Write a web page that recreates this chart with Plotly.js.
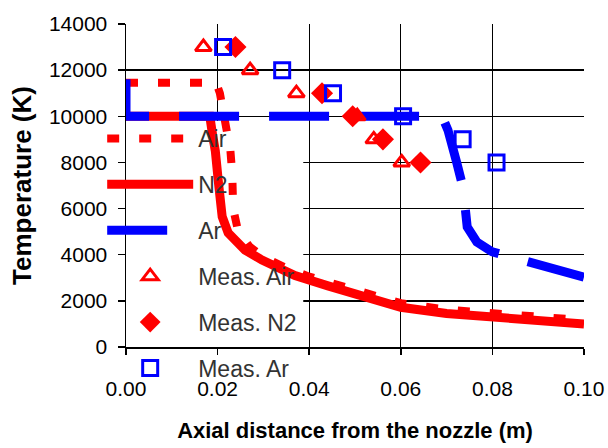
<!DOCTYPE html>
<html><head><meta charset="utf-8">
<script src="https://cdn.plot.ly/plotly-3.0.1.min.js"></script>
<style>html,body{margin:0;padding:0;background:#fff}#chart{width:608px;height:448px}</style>
</head><body><div id="chart"></div>
<script>
// Computed lines
const airX = [0, 0.0197, 0.0205, 0.0218, 0.0228, 0.0232, 0.0234, 0.0245, 0.027, 0.030, 0.035, 0.040, 0.045, 0.050, 0.060, 0.070, 0.080, 0.090, 0.100];
const airY = [11450, 11450, 11000, 9800, 8500, 7500, 6000, 5000, 4350, 3900, 3420, 3050, 2750, 2480, 1900, 1620, 1440, 1290, 1160];
const n2X = [0, 0.0183, 0.0189, 0.0195, 0.0202, 0.021, 0.0223, 0.026, 0.0297, 0.0369, 0.0441, 0.050, 0.060, 0.070, 0.080, 0.090, 0.100];
const n2Y = [10000, 10000, 9200, 8500, 7100, 5650, 4950, 4200, 3770, 3100, 2650, 2300, 1720, 1450, 1280, 1120, 1000];
const arX = [0, 0, 0.069, 0.0703, 0.0722, 0.0736, 0.0745, 0.0766, 0.080, 0.085, 0.092, 0.100];
const arY = [11600, 10000, 10000, 9400, 8000, 6900, 5200, 4550, 4120, 3860, 3420, 3030];
// Measurements
const measAirX = [0.0169, 0.0271, 0.0372, 0.0505, 0.0541, 0.0602];
const measAirY = [13000, 12000, 11000, 10000, 9000, 8000];
const measN2X = [0.0239, 0.0428, 0.0495, 0.0561, 0.0643];
const measN2Y = [13000, 11000, 10000, 9000, 8000];
const measArX = [0.0212, 0.0341, 0.0452, 0.0605, 0.0735, 0.0809];
const measArY = [13000, 12000, 11000, 10000, 9000, 8000];
// Ticks
const xTickVals = [0, 0.02, 0.04, 0.06, 0.08, 0.10];
const xTickText = ['0.00', '0.02', '0.04', '0.06', '0.08', '0.10'];
const yTickVals = [0, 2000, 4000, 6000, 8000, 10000, 12000, 14000];
const yTickText = ['0', '2000', '4000', '6000', '8000', '10000', '12000', '14000'];

const RED = '#ff0000', BLUE = '#0000ff';
const FONT = 'Liberation Sans, Arial, sans-serif';

const traces = [
  {x: airX, y: airY, name: 'Air', legendgroup: 'a', mode: 'lines', line: {color: RED, width: 8, dash: '12px,20px'}},
  {x: n2X, y: n2Y, name: 'N2', legendgroup: 'b', mode: 'lines', line: {color: RED, width: 9}},
  {x: arX, y: arY, name: 'Ar', legendgroup: 'c', mode: 'lines', line: {color: BLUE, width: 9, dash: '60px,30px'}},
  {x: measAirX, y: measAirY, name: 'Meas. Air', legendgroup: 'd', mode: 'markers',
   marker: {symbol: 'triangle-up-open', size: 14, color: RED, line: {color: RED, width: 3}}},
  {x: measN2X, y: measN2Y, name: 'Meas. N2', legendgroup: 'e', mode: 'markers',
   marker: {symbol: 'diamond', size: 17, color: RED}},
  {x: measArX, y: measArY, name: 'Meas. Ar', legendgroup: 'f', mode: 'markers',
   marker: {symbol: 'square-open', size: 15, color: BLUE, line: {color: BLUE, width: 3}}}
];

const layout = {
  width: 608, height: 448,
  margin: {l: 126, r: 24, t: 24, b: 101},
  paper_bgcolor: '#fff', plot_bgcolor: '#fff',
  font: {family: FONT, color: '#000'},
  showlegend: true,
  legend: {x: -0.052, xanchor: 'left', y: 0.712, yanchor: 'top', bgcolor: 'rgba(0,0,0,0)',
           font: {family: FONT, size: 23, color: '#333'}, itemwidth: 86, tracegroupgap: 13,
           traceorder: 'grouped'},
  xaxis: {range: [0, 0.1], tickvals: xTickVals, ticktext: xTickText, showgrid: true, gridcolor: '#000', gridwidth: 1.3,
          showline: true, linecolor: '#000', linewidth: 1.5, ticks: 'outside', ticklen: 6, tickcolor: '#000', tickwidth: 1.5,
          zeroline: false, layer: 'below traces', tickfont: {family: FONT, size: 21, color: '#000'}, ticklabelstandoff: 16,
          title: {text: 'Axial distance from the nozzle (m)', font: {family: FONT, size: 22, weight: 'bold', color: '#000'}, standoff: 24}},
  yaxis: {range: [0, 14000], tickvals: yTickVals, ticktext: yTickText, showgrid: true, gridcolor: '#000', gridwidth: 1.3,
          showline: true, linecolor: '#000', linewidth: 1.5, ticks: 'outside', ticklen: 7, tickcolor: '#000', tickwidth: 1.5,
          zeroline: false, layer: 'below traces', tickfont: {family: FONT, size: 21, color: '#000'}, ticklabelstandoff: 6,
          title: {text: 'Temperature (K)', font: {family: FONT, size: 26, weight: 'bold', color: '#000'}, standoff: 10}},
  shapes: [{type: 'rect', layer: 'between', xref: 'x', yref: 'y', x0: 0, x1: 0.0387, y0: 0, y1: 9800,
            fillcolor: '#fff', line: {width: 0}}]
};

Plotly.newPlot('chart', traces, layout, {displayModeBar: false, staticPlot: true});
</script></body></html>
